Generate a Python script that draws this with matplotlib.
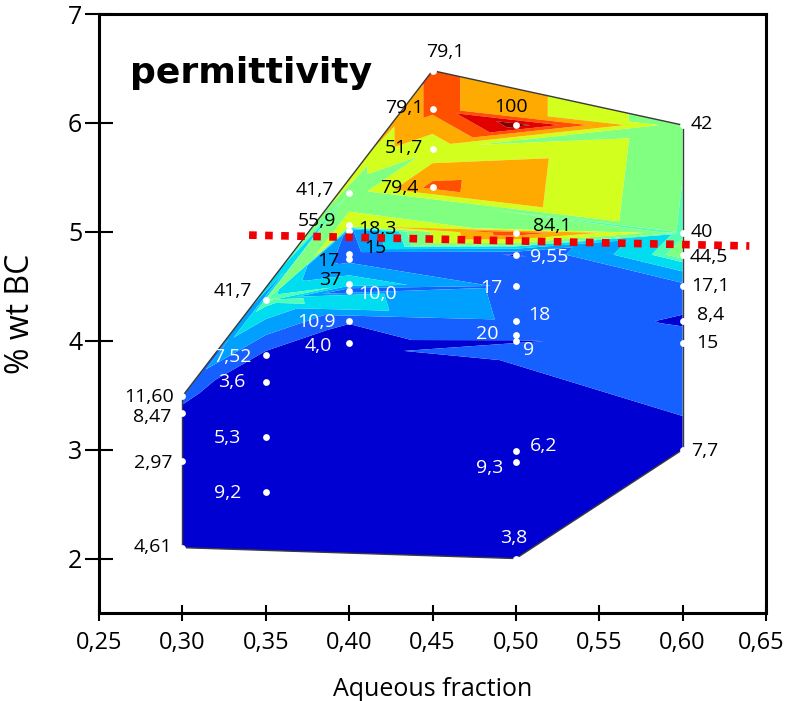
import matplotlib
matplotlib.use("Agg")
import matplotlib.pyplot as plt
import matplotlib.tri as mtri
import matplotlib.transforms as mtrans
from matplotlib.colors import ListedColormap, BoundaryNorm

# ---------------- data ----------------
aqueous = [0.30, 0.30, 0.30, 0.30,
           0.35, 0.35, 0.35, 0.35, 0.35,
           0.40, 0.40, 0.40, 0.40, 0.40, 0.40, 0.40, 0.40, 0.40,
           0.45, 0.45, 0.45, 0.45,
           0.50, 0.50, 0.50, 0.50, 0.50, 0.50, 0.50, 0.50, 0.50, 0.50,
           0.60, 0.60, 0.60, 0.60, 0.60, 0.60, 0.60]
bc = [3.49, 3.34, 2.90, 2.10,
      4.37, 3.87, 3.62, 3.12, 2.61,
      5.36, 5.06, 5.01, 4.80, 4.75, 4.52, 4.46, 4.18, 3.98,
      6.48, 6.13, 5.76, 5.41,
      5.98, 4.99, 4.79, 4.50, 4.18, 4.05, 4.00, 2.99, 2.89, 2.00,
      5.98, 4.99, 4.79, 4.50, 4.18, 3.98, 3.00]
perm = [11.60, 8.47, 2.97, 4.61,
        41.7, 7.52, 3.6, 5.3, 9.2,
        41.7, 55.9, 18.3, 15, 17, 37, 10.0, 10.9, 4.0,
        79.1, 79.1, 51.7, 79.4,
        100, 84.1, 9.55, 17, 18, 20, 9, 6.2, 9.3, 3.8,
        42, 40, 44.5, 17.1, 8.4, 15, 7.7]
point_labels = ["11,60", "8,47", "2,97", "4,61",
                "41,7", "7,52", "3,6", "5,3", "9,2",
                "41,7", "55,9", "18,3", "15", "17", "37", "10,0", "10,9", "4,0",
                "79,1", "79,1", "51,7", "79,4",
                "100", "84,1", "9,55", "17", "18", "20", "9", "6,2", "9,3", "3,8",
                "42", "40", "44,5", "17,1", "8,4", "15", "7,7"]

xticks = [0.25, 0.30, 0.35, 0.40, 0.45, 0.50, 0.55, 0.60, 0.65]
xtick_labels = ["0,25", "0,30", "0,35", "0,40", "0,45", "0,50", "0,55", "0,60", "0,65"]
yticks = [2, 3, 4, 5, 6, 7]
ytick_labels = ["2", "3", "4", "5", "6", "7"]

# red dotted reference line
line_x = [0.34, 0.64]
line_y = [4.97, 4.87]

# ---------------- styles ----------------
levels = [0, 10, 20, 30, 38, 41, 50, 62, 75, 85, 95, 100]
colors = ["#0000d2", "#1560ff", "#00a0ff", "#00dcf0", "#50ffb4", "#80ff80",
          "#d2ff1e", "#ffaa00", "#ff5000", "#e00000", "#800000"]
# label offsets in pixels (dx, dy with y downward) and alignment
offsets = [(-8, 1, "right"), (-11, 4, "right"), (-10, 2, "right"), (-10, -1, "right"),
           (-14, -9, "right"), (-14, 2, "right"), (-20, 0, "right"), (-25, 1, "right"), (-24, 1, "right"),
           (-15, -3, "right"), (-13, -4, "right"), (9, -2, "left"), (15, -6, "left"), (-10, 2, "right"),
           (-8, -4, "right"), (9, 3, "left"), (-13, 1, "right"), (-17, 3, "right"),
           (13, -19, "center"), (-9, -1, "right"), (-9, -1, "right"), (-14, 1, "right"),
           (-5, -18, "center"), (17, -7, "left"), (14, 2, "left"), (-13, 2, "right"), (12, -6, "left"),
           (-17, -1, "right"), (7, 9, "left"), (14, -5, "left"), (-13, 6, "right"), (-2, -21, "center"),
           (8, -1, "left"), (8, -1, "left"), (7, 2, "left"), (9, 0, "left"), (14, -6, "left"),
           (14, 0, "left"), (8, 1, "left")]
white_label = [False, False, False, False,
               False, True, True, True, True,
               False, False, False, False, False, False, True, True, True,
               False, False, False, False,
               False, False, True, True, True, True, True, True, True, True,
               False, False, False, False, False, False, False]

fig = plt.figure(figsize=(7.88, 7.01), dpi=100)
ax = fig.add_axes([99 / 788, 88 / 701, 667 / 788, 599 / 701])

cmap = ListedColormap(colors)
norm = BoundaryNorm(levels, cmap.N)
tri = mtri.Triangulation(aqueous, bc)
ax.tricontourf(tri, perm, levels=levels, cmap=cmap, norm=norm, antialiased=True)

# hull outline from triangulation boundary
for t, tr in enumerate(tri.triangles):
    for j in range(3):
        if tri.neighbors[t, j] == -1:
            a, b = tr[j], tr[(j + 1) % 3]
            ax.plot([aqueous[a], aqueous[b]], [bc[a], bc[b]], color="#3a3a3a", lw=1.0, zorder=3)

ax.scatter(aqueous, bc, s=24, color="white", zorder=5, linewidths=0)

for x, y, lab, (dx, dy, ha), wl in zip(aqueous, bc, point_labels, offsets, white_label):
    ax.annotate(lab, (x, y), xytext=(dx * 0.72, -dy * 0.72), textcoords="offset points",
                ha=ha, va="center", fontsize=14, family="Open Sans",
                color="white" if wl else "black", zorder=6)

ax.plot(line_x, line_y, color="#f00000", lw=5.5, dashes=(1, 1.1),
        dash_capstyle="butt", zorder=7, solid_capstyle="butt")

ax.text(0.0465, 0.885, "permittivity", transform=ax.transAxes, fontsize=26,
        fontweight="bold", family="DejaVu Sans", ha="left", va="baseline")

ax.set_xlim(0.25, 0.65)
ax.set_ylim(1.5, 7)
ax.set_xticks(xticks)
ax.set_xticklabels(xtick_labels, family="Open Sans", fontsize=17)
ax.set_yticks(yticks)
ax.set_yticklabels(ytick_labels, family="Open Sans", fontsize=18)
ax.tick_params(axis="x", direction="inout", length=12, width=1.5, pad=7)
ax.tick_params(axis="y", direction="inout", length=20, width=1.5, pad=2)
# keep the last x tick label inside the figure
last = ax.get_xticklabels()[-1]
last.set_transform(last.get_transform() + mtrans.ScaledTranslation(-5 / 100, 0, fig.dpi_scale_trans))
for s in ax.spines.values():
    s.set_linewidth(2.2)
ax.set_xlabel("Aqueous fraction", family="Open Sans", fontsize=18, labelpad=16)
ax.set_ylabel("% wt BC", family="Open Sans", fontsize=23, labelpad=22)

fig.savefig("out.png", dpi=100)
